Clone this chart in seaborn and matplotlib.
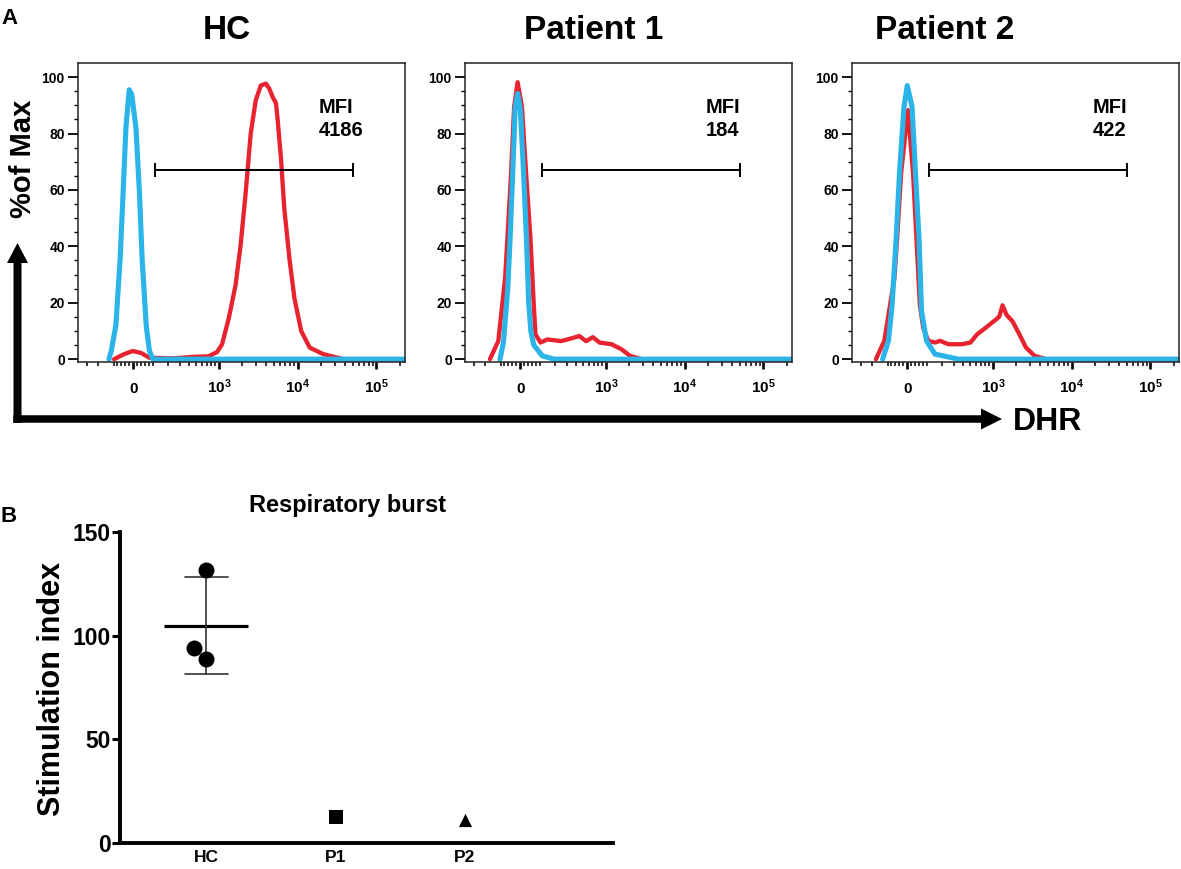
import numpy as np
import seaborn as sns
import matplotlib.pyplot as plt
from matplotlib.patches import FancyArrow

# ---- panel A: DHR histograms (x in DHR units, y in % of max) ----
titles = ['HC', 'Patient 1', 'Patient 2']
mfi_values = ['4186', '184', '422']

hc_red_x = [-98, -45, -2, 38, 81, 255, 440, 735, 946, 1100, 1343, 1637, 1897, 2200, 2548,
            2953, 3420, 3966, 4375, 4830, 5337, 5602, 6183, 6806, 7893, 9131, 11130, 14270,
            21150, 31350, 38200, 230000]
hc_red_y = [0, 1.8, 2.9, 2.2, 0.5, 0.3, 0.8, 1.0, 2.5, 5.3, 14.6, 26.3, 40.4, 59.0, 80.0,
            91.8, 97.0, 97.7, 96.0, 93.0, 90.7, 84.8, 70.8, 53.2, 35.7, 21.6, 10.0, 4.1,
            1.8, 0.6, 0, 0]
hc_blue_x = [-128, -114, -88, -65, -50, -36, -20, -8, 13, 30, 43, 64, 81, 100, 230000]
hc_blue_y = [0, 3, 12, 36, 59, 82, 95.5, 94, 82, 59, 36, 12, 3, 0, 0]

p1_red_x = [-167, -114, -76, -64, -45, -30, -13, 8, 28, 50, 67, 76, 104, 145, 246, 308,
            450, 553, 679, 829, 1183, 1588, 2030, 2866, 230000]
p1_red_y = [0, 6.4, 28.7, 42.7, 66.1, 89.5, 98.2, 89.5, 66.1, 42.7, 19.3, 8.8, 5.9, 7.0,
            6.4, 7.0, 8.2, 6.4, 7.8, 5.9, 5.3, 3.5, 1.2, 0, 0]
p1_blue_x = [-104, -85, -62, -50, -37, -25, -13, 0, 16, 30, 41, 52, 67, 114, 191, 230000]
p1_blue_y = [0, 6, 25, 43, 66, 89, 94.2, 89, 66, 43, 20, 10, 5, 1.2, 0, 0]

p2_red_x = [-174, -120, -64, -50, -30, 3, 28, 45, 62, 80, 108, 149, 183, 251, 390, 510,
            626, 805, 1091, 1208, 1331, 1497, 1787, 2180, 2650, 3390, 4775, 230000]
p2_red_y = [0, 6.5, 28.7, 42.7, 66, 88.3, 66, 42.7, 19.3, 11.1, 6.5, 5.9, 6.5, 5.3, 5.3,
            5.9, 8.8, 11.1, 14, 15.1, 19.1, 15.7, 13.4, 8.8, 4.1, 1.2, 0, 0]
p2_blue_x = [-130, -96, -76, -55, -38, -16, 0, 23, 40, 58, 71, 98, 149, 352, 230000]
p2_blue_y = [0, 6.5, 19.3, 42.7, 66, 89.5, 97, 89.5, 66, 42.7, 17, 6.5, 1.8, 0, 0]

gate_lo, gate_hi, gate_y = 110, 51000, 67

x_major = [0, 1e3, 1e4, 1e5]
x_major_labels = ['0', r'$10^3$', r'$10^4$', r'$10^5$']
x_minor = [-300, -200, -100, -80, -60, -40, -20, 20, 40, 60, 80, 100, 200, 300, 400, 500,
           600, 700, 800, 900, 2000, 3000, 4000, 5000, 6000, 7000, 8000, 9000, 20000,
           30000, 40000, 50000, 60000, 70000, 80000, 90000, 200000]

# ---- panel B: respiratory burst ----
si_groups = ['HC', 'P1', 'P2']
hc_si = [131.5, 93.8, 88.7]
p1_si = [12.8]
p2_si = [11.0]

RED = '#E8222E'
BLUE = '#2AB4E8'
W, H = 1181, 869

sns.set_style('ticks')
plt.rcParams['font.family'] = ['Liberation Sans', 'DejaVu Sans']
plt.rcParams['font.weight'] = 'bold'
plt.rcParams['text.color'] = 'black'
plt.rcParams['axes.labelcolor'] = 'black'
plt.rcParams['xtick.color'] = 'black'
plt.rcParams['ytick.color'] = 'black'
plt.rcParams['mathtext.fontset'] = 'custom'
plt.rcParams['mathtext.default'] = 'bf'
plt.rcParams['mathtext.bf'] = 'Liberation Sans:bold'
plt.rcParams['mathtext.rm'] = 'Liberation Sans:bold'

fig = plt.figure(figsize=(W / 100, H / 100), dpi=100)


def add_ax(l, t, r, b):
    return fig.add_axes([l / W, 1 - b / H, (r - l) / W, (b - t) / H])


def ftext(px, py, s, **kw):
    fig.text(px / W, 1 - py / H, s, **kw)


hist_data = [(hc_red_x, hc_red_y, hc_blue_x, hc_blue_y),
             (p1_red_x, p1_red_y, p1_blue_x, p1_blue_y),
             (p2_red_x, p2_red_y, p2_blue_x, p2_blue_y)]
ax_left_px = [78, 465, 852]
title_px = [227, 594, 945]

for i, name in enumerate(titles):
    ax = add_ax(ax_left_px[i], 63, ax_left_px[i] + 327, 362)
    rx, ry, bx, by = hist_data[i]
    sns.lineplot(x=rx, y=ry, ax=ax, color=RED, linewidth=3.1, estimator=None, sort=False,
                 solid_joinstyle='round')
    sns.lineplot(x=bx, y=by, ax=ax, color=BLUE, linewidth=3.7, estimator=None, sort=False,
                 solid_joinstyle='round')
    ax.set_xscale('asinh', linear_width=166)
    ax.set_xlim(-400, 230000)
    ax.set_ylim(-1, 105)
    ax.set_xlabel('')
    ax.set_ylabel('')

    ax.hlines(gate_y, gate_lo, gate_hi, color='black', lw=1.4)
    ax.vlines([gate_lo, gate_hi], gate_y - 2.4, gate_y + 2.4, color='black', lw=1.4)
    ax.text(0.735, 0.832, 'MFI', transform=ax.transAxes, fontsize=14.5, va='baseline')
    ax.text(0.735, 0.756, mfi_values[i], transform=ax.transAxes, fontsize=14.5,
            va='baseline')

    ax.set_xticks(x_major, labels=x_major_labels)
    ax.set_xticks(x_minor, minor=True)
    ax.set_yticks([0, 20, 40, 60, 80, 100])
    ax.set_yticks(np.arange(0, 101, 5), minor=True)
    ax.tick_params(axis='y', which='major', length=7, width=1.3, labelsize=10, pad=2.5)
    ax.tick_params(axis='y', which='minor', length=2.6, width=1.0)
    ax.tick_params(axis='x', which='major', length=5, width=1.9, labelsize=11, pad=17)
    ax.tick_params(axis='x', which='minor', length=3, width=1.1)
    for lab in ax.get_xticklabels():
        lab.set_va('baseline')
    for s in ax.spines.values():
        s.set_linewidth(1.1)
        s.set_color('#222222')

    ftext(title_px[i], 39, name, fontsize=24, ha='center', va='baseline')

ftext(10, 24, 'A', fontsize=16, ha='center', va='baseline')
ftext(31, 158.5, '%of Max', fontsize=21, rotation=90, rotation_mode='anchor',
      ha='center', va='baseline')
ftext(1013, 430, 'DHR', fontsize=23, ha='left', va='baseline')

# axis arrows (figure inches)
fig.add_artist(FancyArrow(13.3 / 100, (H - 419) / 100, (1002 - 13.3) / 100, 0,
                          width=0.075, head_width=0.21, head_length=0.21,
                          length_includes_head=True, color='black', lw=0,
                          transform=fig.dpi_scale_trans))
fig.add_artist(FancyArrow(17.5 / 100, (H - 422.7) / 100, 0, (422.7 - 243) / 100,
                          width=0.08, head_width=0.21, head_length=0.2,
                          length_includes_head=True, color='black', lw=0,
                          transform=fig.dpi_scale_trans))

# ---- panel B ----
axb = add_ax(120, 531.7, 613, 843.3)
sns.pointplot(x=['HC'] * len(hc_si), y=hc_si, order=si_groups, errorbar='sd', capsize=0.34,
              markers='_', markersize=61, markeredgewidth=2.3, color='black',
              err_kws={'linewidth': 1.2, 'color': '#333333'}, ax=axb)
sns.swarmplot(x=['HC'] * len(hc_si), y=hc_si, order=si_groups, color='black', size=11.5,
              ax=axb, zorder=5)
sns.stripplot(x=['P1'] * len(p1_si), y=p1_si, order=si_groups, color='black', marker='s',
              size=9.5, jitter=False, ax=axb, zorder=5)
sns.stripplot(x=['P2'] * len(p2_si), y=p2_si, order=si_groups, color='black', marker='^',
              size=9.5, jitter=False, ax=axb, zorder=5)
axb.set_xlim(-0.67, 3.15)
axb.set_ylim(0, 150)
axb.set_yticks([0, 50, 100, 150])
axb.set_xlabel('')
axb.set_ylabel('')
for c in axb.collections:
    c.set_clip_on(False)
sns.despine(ax=axb)
for s in ['left', 'bottom']:
    axb.spines[s].set_linewidth(2.8)
    axb.spines[s].set_color('black')
axb.tick_params(axis='y', length=5.5, width=2.2, labelsize=16.5, pad=1)
axb.tick_params(axis='x', length=0, labelsize=12.5, pad=4.5)

ftext(8.3, 521.7, 'B', fontsize=16, ha='center', va='baseline')
ftext(347.5, 511.7, 'Respiratory burst', fontsize=17, ha='center', va='baseline')
ftext(60, 689, 'Stimulation index', fontsize=22, rotation=90, rotation_mode='anchor',
      ha='center', va='baseline')

fig.savefig('out.png', dpi=100, facecolor='white')
